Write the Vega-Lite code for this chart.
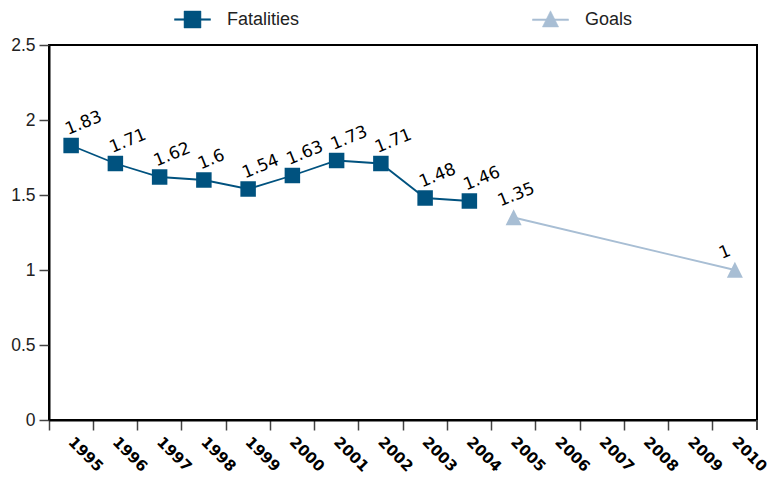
{
  "$schema": "https://vega.github.io/schema/vega-lite/v6.json",
  "autosize": "none",
  "width": 708,
  "height": 375,
  "padding": {"left": 49, "top": 45, "right": 10, "bottom": 61},
  "background": "white",
  "config": {
    "view": {"stroke": "#000000", "strokeWidth": 2},
    "axis": {"grid": false, "domainColor": "#000000", "domainWidth": 2, "tickColor": "#444444", "tickWidth": 1.5, "tickSize": 10, "title": null},
    "legend": {
      "title": null, "orient": "none", "legendX": 125, "legendY": -44, "direction": "horizontal", "columns": 2, "columnPadding": 231,
      "symbolSize": 1296, "labelOffset": 16, "labelFont": "Liberation Sans", "labelFontSize": 18, "labelColor": "#222222"
    }
  },
  "data": {
    "values": [
      {"year": "1995", "value": 1.83, "series": "Fatalities"},
      {"year": "1996", "value": 1.71, "series": "Fatalities"},
      {"year": "1997", "value": 1.62, "series": "Fatalities"},
      {"year": "1998", "value": 1.6, "series": "Fatalities"},
      {"year": "1999", "value": 1.54, "series": "Fatalities"},
      {"year": "2000", "value": 1.63, "series": "Fatalities"},
      {"year": "2001", "value": 1.73, "series": "Fatalities"},
      {"year": "2002", "value": 1.71, "series": "Fatalities"},
      {"year": "2003", "value": 1.48, "series": "Fatalities"},
      {"year": "2004", "value": 1.46, "series": "Fatalities"},
      {"year": "2005", "value": 1.35, "series": "Goals"},
      {"year": "2010", "value": 1.0, "series": "Goals"}
    ]
  },
  "encoding": {
    "x": {
      "field": "year", "type": "ordinal",
      "scale": {"type": "band", "domain": ["1995","1996","1997","1998","1999","2000","2001","2002","2003","2004","2005","2006","2007","2008","2009","2010"], "paddingInner": 0, "paddingOuter": 0},
      "axis": {"bandPosition": 0, "labelAngle": 45, "labelAlign": "left", "labelBaseline": "middle", "labelFont": "DejaVu Sans", "labelFontWeight": "bold", "labelFontSize": 15, "labelColor": "#000000", "labelPadding": 9, "labelDx": 23}
    },
    "y": {
      "field": "value", "type": "quantitative",
      "scale": {"domain": [0, 2.5], "nice": false},
      "axis": {"values": [0, 0.5, 1, 1.5, 2, 2.5], "format": "~g", "labelFont": "Liberation Sans", "labelFontSize": 17.5, "labelColor": "#222222", "labelPadding": 4}
    }
  },
  "layer": [
    {
      "mark": {"type": "line", "strokeWidth": 1.8},
      "encoding": {
        "color": {"field": "series", "type": "nominal", "scale": {"domain": ["Fatalities", "Goals"], "range": ["#00527F", "#A8BED4"]},
          "legend": {
            "symbolType": {"expr": "datum.value === 'Fatalities' ? 'M-1,-0.045H1V0.045H-1ZM-0.47,-0.47H0.47V0.47H-0.47Z' : 'M-1,-0.045H1V0.045H-1ZM0,-0.5L0.45,0.4H-0.45Z'"},
            "symbolFillColor": {"expr": "datum.value === 'Fatalities' ? '#00527F' : '#A8BED4'"},
            "symbolStrokeColor": {"expr": "datum.value === 'Fatalities' ? '#00527F' : '#A8BED4'"},
            "symbolStrokeWidth": 0.5,
            "symbolOpacity": 1
          }}
      }
    },
    {
      "transform": [{"filter": "datum.series === 'Fatalities'"}],
      "mark": {"type": "point", "filled": true, "size": 240, "opacity": 1, "shape": "square", "color": "#00527F"}
    },
    {
      "transform": [{"filter": "datum.series === 'Goals'"}],
      "mark": {"type": "point", "filled": true, "size": 240, "opacity": 1, "shape": "M0,-1.05L1.03,1H-1.03Z", "color": "#A8BED4"}
    },
    {
      "mark": {"type": "rule", "color": "#444444", "strokeWidth": 1.5, "clip": false},
      "encoding": {
        "x": {"datum": "2010", "type": "ordinal", "bandPosition": 1},
        "y": {"datum": 0},
        "y2": {"datum": -0.0667}
      }
    },
    {
      "transform": [{"filter": "datum.series === 'Fatalities'"}],
      "mark": {"type": "text", "align": "left", "baseline": "alphabetic", "angle": -22, "dx": 1, "dy": -11, "font": "DejaVu Sans", "fontSize": 17, "color": "#000000"},
      "encoding": {"text": {"field": "value", "type": "quantitative"}}
    },
    {
      "transform": [{"filter": "datum.series === 'Goals'"}],
      "mark": {"type": "text", "align": "left", "baseline": "alphabetic", "angle": -22, "dx": -8, "dy": -15, "font": "DejaVu Sans", "fontSize": 17, "color": "#000000"},
      "encoding": {"text": {"field": "value", "type": "quantitative"}}
    }
  ]
}
